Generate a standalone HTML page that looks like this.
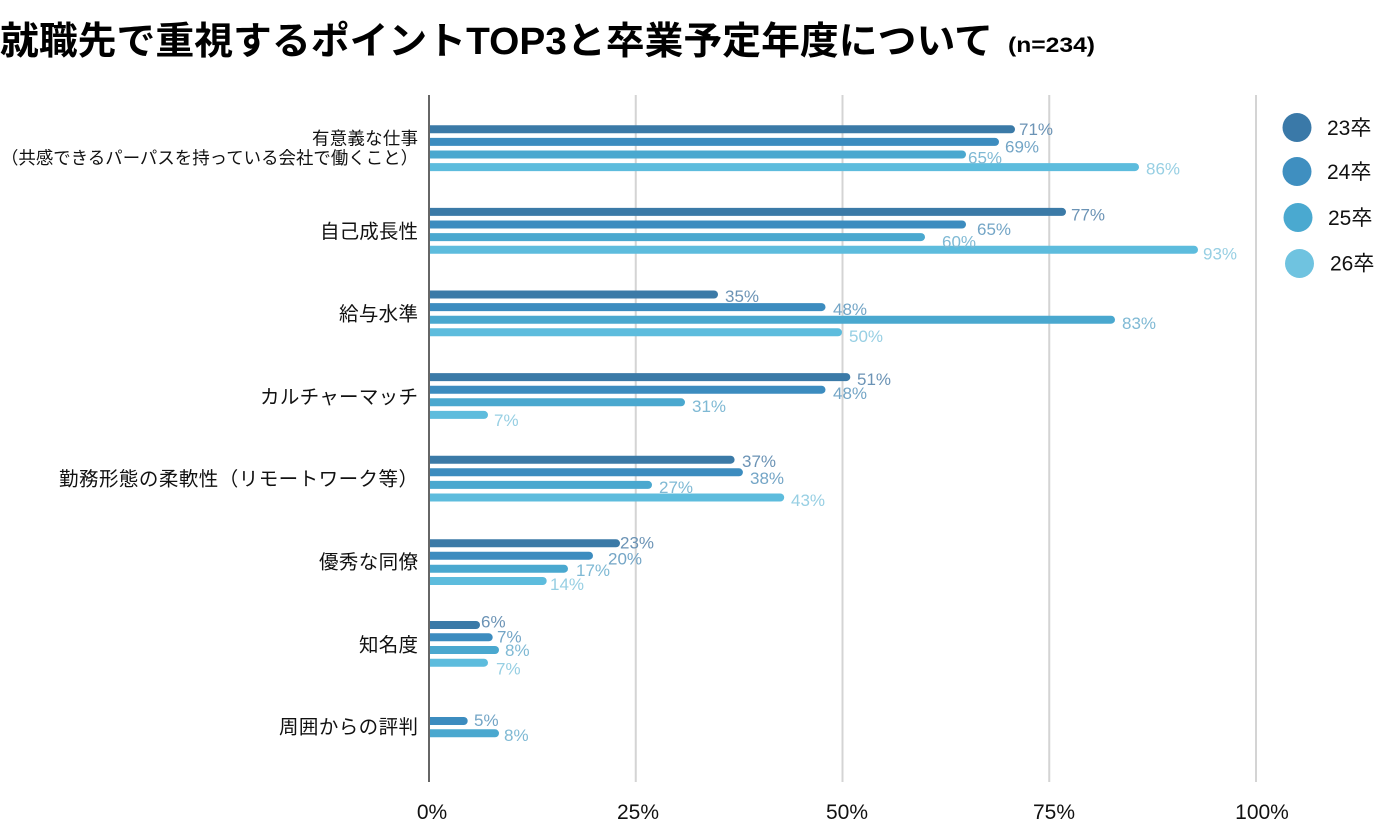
<!DOCTYPE html>
<html>
<head>
<meta charset="utf-8">
<style>
html,body{margin:0;padding:0;background:#fff;}
svg{display:block;}
text{font-family:"Liberation Sans","Noto Sans CJK JP",sans-serif;}
</style>
</head>
<body>
<svg width="1389" height="831" viewBox="0 0 1389 831" xmlns="http://www.w3.org/2000/svg">
<rect x="0" y="0" width="1389" height="831" fill="#fff"/>
<!-- Title -->
<text x="0" y="54" font-size="38" font-weight="700" fill="#000" textLength="993" lengthAdjust="spacingAndGlyphs">就職先で重視するポイントTOP3と卒業予定年度について</text>
<text x="1008" y="52" font-size="21" font-weight="700" fill="#000" textLength="87" lengthAdjust="spacingAndGlyphs">(n=234)</text>

<!-- gridlines -->
<g stroke="#d4d4d4" stroke-width="2">
<line x1="635.75" y1="95" x2="635.75" y2="782"/>
<line x1="842.5" y1="95" x2="842.5" y2="782"/>
<line x1="1049.25" y1="95" x2="1049.25" y2="782"/>
<line x1="1256" y1="95" x2="1256" y2="782"/>
</g>

<!-- bars -->
<g>
<path d="M429,125.3 H1011 A4,4 0 0 1 1011,133.3 H429 Z" fill="#3b7aa7"/>
<path d="M429,137.9 H995 A4,4 0 0 1 995,145.9 H429 Z" fill="#3c8cbf"/>
<path d="M429,150.5 H962 A4,4 0 0 1 962,158.5 H429 Z" fill="#4aa8cf"/>
<path d="M429,163.1 H1135 A4,4 0 0 1 1135,171.1 H429 Z" fill="#5dbcdd"/>
<path d="M429,207.9 H1062 A4,4 0 0 1 1062,215.9 H429 Z" fill="#3b7aa7"/>
<path d="M429,220.5 H962 A4,4 0 0 1 962,228.5 H429 Z" fill="#3c8cbf"/>
<path d="M429,233.1 H921 A4,4 0 0 1 921,241.1 H429 Z" fill="#4aa8cf"/>
<path d="M429,245.7 H1194 A4,4 0 0 1 1194,253.7 H429 Z" fill="#5dbcdd"/>
<path d="M429,290.5 H714 A4,4 0 0 1 714,298.5 H429 Z" fill="#3b7aa7"/>
<path d="M429,303.1 H821.5 A4,4 0 0 1 821.5,311.1 H429 Z" fill="#3c8cbf"/>
<path d="M429,315.7 H1111 A4,4 0 0 1 1111,323.7 H429 Z" fill="#4aa8cf"/>
<path d="M429,328.3 H838 A4,4 0 0 1 838,336.3 H429 Z" fill="#5dbcdd"/>
<path d="M429,373.1 H846.3 A4,4 0 0 1 846.3,381.1 H429 Z" fill="#3b7aa7"/>
<path d="M429,385.7 H821.5 A4,4 0 0 1 821.5,393.7 H429 Z" fill="#3c8cbf"/>
<path d="M429,398.3 H681 A4,4 0 0 1 681,406.3 H429 Z" fill="#4aa8cf"/>
<path d="M429,410.9 H484 A4,4 0 0 1 484,418.9 H429 Z" fill="#5dbcdd"/>
<path d="M429,455.7 H730.6 A4,4 0 0 1 730.6,463.7 H429 Z" fill="#3b7aa7"/>
<path d="M429,468.3 H738.9 A4,4 0 0 1 738.9,476.3 H429 Z" fill="#3c8cbf"/>
<path d="M429,480.9 H648 A4,4 0 0 1 648,488.9 H429 Z" fill="#4aa8cf"/>
<path d="M429,493.5 H780.2 A4,4 0 0 1 780.2,501.5 H429 Z" fill="#5dbcdd"/>
<path d="M429,539.3 H616 A4,4 0 0 1 616,547.3 H429 Z" fill="#3b7aa7"/>
<path d="M429,551.7 H589 A4,4 0 0 1 589,559.7 H429 Z" fill="#3c8cbf"/>
<path d="M429,564.7 H564 A4,4 0 0 1 564,572.7 H429 Z" fill="#4aa8cf"/>
<path d="M429,577 H542.7 A4,4 0 0 1 542.7,585 H429 Z" fill="#5dbcdd"/>
<path d="M429,621 H476 A4,4 0 0 1 476,629 H429 Z" fill="#3b7aa7"/>
<path d="M429,633.3 H488.7 A4,4 0 0 1 488.7,641.3 H429 Z" fill="#3c8cbf"/>
<path d="M429,646 H495 A4,4 0 0 1 495,654 H429 Z" fill="#4aa8cf"/>
<path d="M429,658.7 H484 A4,4 0 0 1 484,666.7 H429 Z" fill="#5dbcdd"/>
<path d="M429,717 H463.7 A4,4 0 0 1 463.7,725 H429 Z" fill="#3c8cbf"/>
<path d="M429,729.3 H495 A4,4 0 0 1 495,737.3 H429 Z" fill="#4aa8cf"/>
</g>

<!-- axis -->
<line x1="429" y1="95" x2="429" y2="782" stroke="#666" stroke-width="2"/>

<!-- data labels -->
<g font-size="17">
<text x="1019" y="135" fill="#6b93b5">71%</text>
<text x="1005" y="152.7" fill="#73a5c6">69%</text>
<text x="968" y="163.7" fill="#7fb9d4">65%</text>
<text x="1146" y="174.3" fill="#97cfe3">86%</text>

<text x="1071" y="220.3" fill="#6b93b5">77%</text>
<text x="977" y="235" fill="#73a5c6">65%</text>
<text x="942" y="247.7" fill="#7fb9d4">60%</text>
<text x="1203" y="259.3" fill="#97cfe3">93%</text>

<text x="725" y="302" fill="#6b93b5">35%</text>
<text x="833" y="315" fill="#73a5c6">48%</text>
<text x="1122" y="329" fill="#7fb9d4">83%</text>
<text x="849" y="342" fill="#97cfe3">50%</text>

<text x="857" y="385" fill="#6b93b5">51%</text>
<text x="833" y="399" fill="#73a5c6">48%</text>
<text x="692" y="412" fill="#7fb9d4">31%</text>
<text x="494" y="426" fill="#97cfe3">7%</text>

<text x="742" y="467" fill="#6b93b5">37%</text>
<text x="750" y="484" fill="#73a5c6">38%</text>
<text x="659" y="493" fill="#7fb9d4">27%</text>
<text x="791" y="506" fill="#97cfe3">43%</text>

<text x="620" y="548.7" fill="#6b93b5">23%</text>
<text x="608" y="564.3" fill="#73a5c6">20%</text>
<text x="576" y="576" fill="#7fb9d4">17%</text>
<text x="550" y="590" fill="#97cfe3">14%</text>

<text x="481" y="627.7" fill="#6b93b5">6%</text>
<text x="497" y="642.7" fill="#73a5c6">7%</text>
<text x="505" y="656" fill="#7fb9d4">8%</text>
<text x="496" y="674.3" fill="#97cfe3">7%</text>

<text x="474" y="726" fill="#73a5c6">5%</text>
<text x="504" y="741" fill="#7fb9d4">8%</text>
</g>

<!-- category labels -->
<g fill="#111" text-anchor="end">
<text x="418" y="144.6" font-size="17.4" textLength="106">有意義な仕事</text>
<text x="418" y="164" font-size="17.4" textLength="417">（共感できるパーパスを持っている会社で働くこと）</text>
<text x="418" y="238" font-size="19.5" textLength="98">自己成長性</text>
<text x="418" y="320.5" font-size="19.5" textLength="79">給与水準</text>
<text x="418" y="403.5" font-size="19.5" textLength="158">カルチャーマッチ</text>
<text x="418" y="485.5" font-size="19.5" textLength="359">勤務形態の柔軟性（リモートワーク等）</text>
<text x="418" y="568.5" font-size="19.5" textLength="99">優秀な同僚</text>
<text x="418" y="651.5" font-size="19.5" textLength="59">知名度</text>
<text x="418" y="733.5" font-size="19.5" textLength="139">周囲からの評判</text>
</g>

<!-- x axis labels -->
<g font-size="21" fill="#111" text-anchor="middle">
<text x="432" y="819">0%</text>
<text x="638" y="819">25%</text>
<text x="847" y="819">50%</text>
<text x="1054" y="819">75%</text>
<text x="1262" y="819">100%</text>
</g>

<!-- legend -->
<g>
<circle cx="1297" cy="127.5" r="14.5" fill="#3a79a8"/>
<circle cx="1297" cy="171.5" r="14.5" fill="#3f8fc0"/>
<circle cx="1298" cy="217.5" r="14.5" fill="#4aa9d0"/>
<circle cx="1299.5" cy="263.5" r="14.5" fill="#6fc3e0"/>
</g>
<g font-size="21" fill="#111">
<text x="1327" y="135">23卒</text>
<text x="1327" y="179">24卒</text>
<text x="1328" y="225">25卒</text>
<text x="1330" y="270.5">26卒</text>
</g>
</svg>
</body>
</html>
